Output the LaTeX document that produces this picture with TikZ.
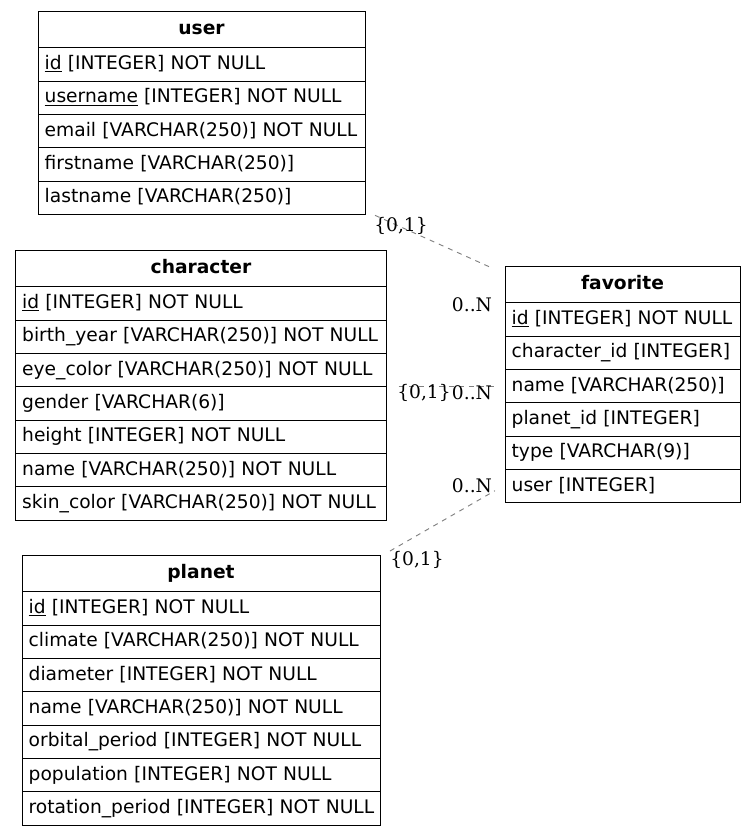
\documentclass[tikz,border=0pt]{standalone}
\usepackage{fontspec}
\setmainfont{DejaVu Sans}
\newfontfamily\cardfont{DejaVu Serif}
\usetikzlibrary{positioning}

\tikzset{
  tbl/.style={draw, line width=0.75pt, inner xsep=5pt, inner ysep=0pt, outer sep=0pt, anchor=north west,
    text height=1em, text depth=0.25em, font=\fontsize{14}{16}\selectfont},
  head/.style={tbl, minimum height=27.5pt, align=center, text width=#1, font=\fontsize{14}{16}\selectfont\bfseries},
  fld/.style={tbl, minimum height=25pt, align=left, text width=#1},
  link/.style={gray, line width=0.7pt, dash pattern=on 3.75pt off 3.75pt},
  card/.style={font=\fontsize{14}{16}\cardfont, inner sep=0pt}
}

\begin{document}
\begin{tikzpicture}[x=0.75pt, y=-0.75pt]
        \useasboundingbox (0,0) rectangle (756,836);

        % user
        \node[head=235.25pt] (user-0) at (38,11) {user};
        \foreach \f [count=\i, remember=\i as \j (initially 0)] in
            {\underline{id} [INTEGER] NOT NULL, \underline{username} [INTEGER] NOT NULL,
             email [VARCHAR(250)] NOT NULL, firstname [VARCHAR(250)], lastname [VARCHAR(250)]}
            \node[fld=235.25pt, anchor=north, below=0pt of user-\j] (user-\i) {\mbox{\f}};

        % character
        \node[head=268.25pt] (character-0) at (15.5,250) {character};
        \foreach \f [count=\i, remember=\i as \j (initially 0)] in
            {\underline{id} [INTEGER] NOT NULL, birth\_year [VARCHAR(250)] NOT NULL,
             eye\_color [VARCHAR(250)] NOT NULL, gender [VARCHAR(6)], height [INTEGER] NOT NULL,
             name [VARCHAR(250)] NOT NULL, skin\_color [VARCHAR(250)] NOT NULL}
            \node[fld=268.25pt, anchor=north, below=0pt of character-\j] (character-\i) {\mbox{\f}};

        % favorite
        \node[head=166.25pt] (favorite-0) at (505,266) {favorite};
        \foreach \f [count=\i, remember=\i as \j (initially 0)] in
            {\underline{id} [INTEGER] NOT NULL, character\_id [INTEGER], name [VARCHAR(250)],
             planet\_id [INTEGER], type [VARCHAR(9)], user [INTEGER]}
            \node[fld=166.25pt, anchor=north, below=0pt of favorite-\j] (favorite-\i) {\mbox{\f}};

        % planet
        \node[head=258.5pt] (planet-0) at (22,555) {planet};
        \foreach \f [count=\i, remember=\i as \j (initially 0)] in
            {\underline{id} [INTEGER] NOT NULL, climate [VARCHAR(250)] NOT NULL,
             diameter [INTEGER] NOT NULL, name [VARCHAR(250)] NOT NULL,
             orbital\_period [INTEGER] NOT NULL, population [INTEGER] NOT NULL,
             rotation\_period [INTEGER] NOT NULL}
            \node[fld=258.5pt, anchor=north, below=0pt of planet-\j] (planet-\i) {\mbox{\f}};

        % relations
        \coordinate (u-end) at ([shift={(10,1)}]user-5.south east);
        \coordinate (fu-end) at ([shift={(-13,2)}]favorite-0.north west);
        \coordinate (fc-end) at ([shift={(-11,0)}]favorite-3.west);
        \coordinate (c-end) at ([shift={(12,0)}]fc-end -| character-3.east);
        \coordinate (p-end) at ([shift={(10,-4)}]planet-0.north east);
        \coordinate (fp-end) at ([shift={(-10,-12)}]favorite-6.south west);
        \draw[link] (u-end) -- (fu-end);
        \draw[link] (c-end) -- (fc-end);
        \draw[link] (p-end) -- (fp-end);

        \node[card] (u-card) at (401,226) {\{0,1\}};
        \node[card] (fu-card) at (472,305) {0..N};
        \node[card] (c-card) at (424,393) {\{0,1\}};
        \node[card] (fc-card) at (472,393) {0..N};
        \node[card] (fp-card) at (472,486) {0..N};
        \node[card] (p-card) at (417,560) {\{0,1\}};
\end{tikzpicture}
\end{document}
